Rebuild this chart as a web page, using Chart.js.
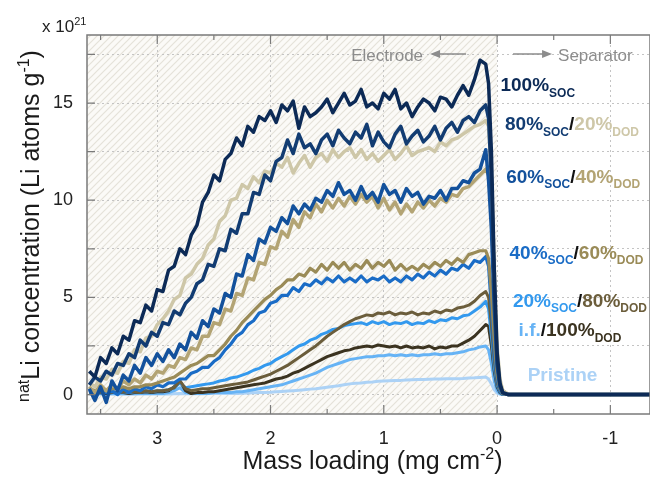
<!DOCTYPE html>
<html>
<head>
<meta charset="utf-8">
<script src="https://cdn.jsdelivr.net/npm/chart.js@4.4.1/dist/chart.umd.min.js"></script>
<style>
  html, body { margin: 0; padding: 0; background: #fff; }
  #wrap { width: 650px; height: 478px; position: relative; }
</style>
</head>
<body>
<div id="wrap"><canvas id="liChart"></canvas></div>
<script>
// mass loading (mg cm-2), electrode side > 0, separator side < 0
const massLoading = [
  3.60,3.55,3.50,3.45,3.40,3.35,3.30,3.25,3.20,3.15,
  3.10,3.05,3.00,2.95,2.90,2.85,2.80,2.75,2.70,2.65,
  2.60,2.55,2.50,2.45,2.40,2.35,2.30,2.25,2.20,2.15,
  2.10,2.05,2.00,1.95,1.90,1.85,1.80,1.75,1.70,1.65,
  1.60,1.55,1.50,1.45,1.40,1.35,1.30,1.25,1.20,1.15,
  1.10,1.05,1.00,0.95,0.90,0.85,0.80,0.75,0.70,0.65,
  0.60,0.55,0.50,0.45,0.40,0.35,0.30,0.25,0.20,0.15,
  0.10,0.075,0.05,0.025,0,-0.025,-0.05,-0.1,-1.35
];

// natLi concentration, x 10^21 Li atoms g-1
const soc100 = [
  1.2,0.9,1.9,1.6,2.4,2.1,3.0,2.8,3.8,3.7,
  4.6,4.3,5.4,5.3,6.4,6.6,7.5,7.2,8.2,8.7,
  9.9,10.4,11.3,11.0,12.1,12.4,13.2,12.8,13.8,13.5,
  14.3,14.1,14.6,14.0,14.9,14.6,15.1,13.7,14.8,14.3,
  14.5,14.8,15.2,14.5,15.0,15.5,14.9,15.1,15.7,14.8,
  15.0,14.7,15.5,15.2,15.7,14.7,15.0,14.3,14.8,15.2,
  15.0,14.6,15.3,15.2,14.8,15.4,15.9,15.4,16.2,17.2,
  17.0,16.0,12.5,6.5,2.2,0.6,0.1,0,0
];
const soc80 = [
  0.5,0.9,0.7,1.2,1.0,1.6,1.5,2.1,1.9,2.8,
  2.5,3.2,3.0,3.7,3.6,4.3,4.1,4.7,5.0,5.7,
  5.9,6.7,6.6,7.5,7.4,8.5,8.3,9.3,9.3,10.4,
  10.3,11.3,11.0,12.0,12.2,13.1,12.4,13.4,12.7,12.9,
  12.4,13.1,13.4,12.8,13.6,13.2,12.9,13.5,13.2,13.9,
  12.8,13.5,13.0,12.7,13.4,13.8,12.9,13.3,13.6,13.0,
  13.3,13.8,13.1,13.7,14.0,13.5,14.1,14.3,14.0,14.6,
  14.9,14.2,11.0,5.5,1.8,0.5,0.1,0,0
];
const dod20 = [
  0.6,0.4,0.9,0.8,1.3,1.1,1.7,1.6,2.3,2.2,
  2.9,3.0,3.6,3.9,4.3,4.9,5.1,6.0,6.2,6.7,
  7.0,7.7,8.0,8.9,9.2,10.0,10.1,10.8,10.6,11.2,
  10.9,11.5,11.4,11.9,11.7,12.2,11.4,11.9,12.3,11.7,
  12.2,12.4,12.0,12.6,12.2,12.5,12.7,12.2,12.6,12.1,
  12.4,12.0,12.3,12.6,12.1,12.4,12.8,12.3,12.5,12.6,
  12.7,12.5,13.0,12.8,13.1,13.2,13.4,13.6,13.8,13.9,
  14.1,13.8,11.5,6.5,2.5,0.8,0.2,0,0
];
const soc60 = [
  0.3,-0.3,0.4,-0.4,0.7,0.2,1.0,0.7,1.5,1.1,
  1.9,1.5,2.1,1.7,2.3,1.9,2.6,2.3,3.2,2.9,
  3.8,3.5,4.4,4.2,5.2,5.0,6.2,6.1,7.2,6.9,
  8.0,7.8,8.6,8.4,9.1,8.8,9.7,9.3,9.8,9.5,
  10.1,9.9,10.5,10.2,10.9,10.3,10.5,10.0,10.7,10.1,
  10.4,9.9,10.8,10.3,10.5,9.9,10.6,10.2,10.4,9.8,
  10.2,10.1,10.5,10.0,10.6,10.6,11.0,10.9,11.4,11.6,
  12.6,11.0,8.5,4.5,1.5,0.4,0.1,0,0
];
const dod40 = [
  0.4,0.1,0.5,0.2,0.5,0.3,0.7,0.5,0.8,0.6,
  1.0,0.8,1.2,1.1,1.5,1.4,1.9,1.8,2.4,2.3,
  3.0,3.0,3.7,3.6,4.4,4.3,5.2,5.1,6.0,5.9,
  6.8,6.7,7.6,7.5,8.4,8.1,9.0,8.6,9.4,9.1,
  9.8,9.4,10.0,9.6,10.1,9.7,10.2,9.8,10.3,9.9,
  10.2,9.6,10.1,9.5,9.9,9.3,9.8,9.4,9.9,9.6,
  10.0,9.7,10.1,9.9,10.3,10.2,10.6,10.7,11.0,11.3,
  11.6,11.3,9.5,5.5,2.0,0.6,0.2,0,0
];
const soc40 = [
  0.2,0.0,0.3,0.1,0.2,0.0,0.3,0.1,0.3,0.2,
  0.4,0.3,0.5,0.4,0.6,0.6,0.8,0.8,1.1,1.2,
  1.4,1.4,1.7,1.9,2.3,2.6,3.0,3.2,3.6,3.8,
  4.2,4.3,4.7,4.8,5.1,5.1,5.5,5.3,5.7,5.6,
  5.9,5.7,6.0,5.8,6.1,5.8,6.0,5.8,6.1,5.8,
  6.0,5.9,6.1,5.8,6.0,5.8,6.1,5.9,6.2,6.0,
  6.3,6.1,6.4,6.2,6.5,6.4,6.7,6.5,6.9,6.8,
  7.1,6.6,4.5,2.2,0.8,0.2,0.05,0,0
];
const dod60 = [
  0.3,0.2,0.3,0.2,0.3,0.3,0.4,0.3,0.4,0.4,
  0.5,0.5,0.6,0.7,0.8,0.9,1.1,1.3,1.5,1.6,
  1.8,2.0,2.0,2.3,2.6,3.0,3.3,3.7,4.0,4.3,
  4.6,4.9,5.1,5.4,5.6,5.9,5.9,6.2,6.1,6.5,
  6.3,6.7,6.4,6.8,6.5,6.8,6.4,6.7,6.5,6.9,
  6.5,6.8,6.6,6.9,6.4,6.7,6.4,6.6,6.4,6.7,
  6.5,6.8,6.6,6.9,6.7,7.0,6.8,7.2,7.3,7.4,
  7.4,7.0,5.2,2.8,1.0,0.3,0.05,0,0
];
const soc20 = [
  0.1,0.1,0.15,0.1,0.15,0.1,0.15,0.1,0.15,0.15,
  0.2,0.15,0.2,0.2,0.25,0.35,0.6,0.35,0.4,0.45,
  0.5,0.55,0.6,0.7,0.75,0.85,0.9,1.0,1.1,1.25,
  1.35,1.5,1.6,1.8,1.95,2.1,2.3,2.5,2.6,2.8,
  2.9,3.1,3.2,3.35,3.4,3.55,3.6,3.65,3.7,3.6,
  3.75,3.65,3.75,3.6,3.7,3.65,3.75,3.6,3.7,3.65,
  3.8,3.7,3.85,3.8,3.95,3.9,4.05,4.1,4.3,4.5,
  4.8,4.4,3.0,1.4,0.5,0.15,0,0,0
];
const dod80 = [
  0.15,0.1,0.15,0.1,0.15,0.1,0.15,0.15,0.15,0.1,
  0.2,0.15,0.2,0.2,0.25,0.35,0.7,0.3,0.2,0.25,
  0.3,0.3,0.35,0.4,0.45,0.5,0.55,0.6,0.65,0.75,
  0.85,0.95,1.05,1.2,1.35,1.5,1.7,1.9,2.1,2.3,
  2.5,2.75,3.0,3.2,3.4,3.6,3.75,3.9,4.0,4.1,
  4.05,4.2,4.15,4.25,4.1,4.2,4.15,4.25,4.1,4.2,
  4.15,4.3,4.2,4.35,4.3,4.45,4.5,4.6,4.8,5.1,
  5.3,5.0,3.6,1.8,0.6,0.2,0.05,0,0
];
const interFace = [
  0.05,0.05,0.05,0.05,0.05,0.05,0.05,0.05,0.05,0.05,
  0.05,0.05,0.05,0.05,0.1,0.2,0.35,0.1,0.05,0.05,
  0.05,0.05,0.1,0.1,0.1,0.1,0.15,0.15,0.2,0.25,
  0.3,0.35,0.4,0.45,0.5,0.6,0.7,0.8,0.9,1.0,
  1.1,1.25,1.4,1.5,1.6,1.7,1.8,1.85,1.9,1.95,
  1.95,2.0,2.0,2.05,2.0,2.05,2.0,2.05,2.0,2.05,
  2.05,2.1,2.05,2.1,2.1,2.15,2.2,2.3,2.35,2.45,
  2.5,2.3,1.6,0.7,0.2,0.05,0,0,0
];
const dod100 = [
  0.1,0.05,0.1,0.05,0.1,0.1,0.1,0.05,0.1,0.1,
  0.15,0.1,0.15,0.15,0.2,0.4,0.7,0.2,0.05,0.1,
  0.1,0.15,0.15,0.2,0.25,0.3,0.35,0.4,0.45,0.5,
  0.55,0.6,0.7,0.8,0.85,0.95,1.1,1.2,1.35,1.5,
  1.65,1.8,1.95,2.05,2.15,2.25,2.3,2.4,2.45,2.5,
  2.45,2.55,2.5,2.45,2.5,2.4,2.5,2.4,2.45,2.4,
  2.5,2.35,2.45,2.4,2.5,2.5,2.65,2.8,3.0,3.3,
  3.6,3.5,2.5,1.2,0.4,0.1,0,0,0
];
const pristine = [
  0.02,0.03,0.02,0.03,0.02,0.03,0.02,0.03,0.02,0.03,
  0.03,0.03,0.03,0.03,0.03,0.04,0.05,0.04,0.04,0.04,
  0.04,0.05,0.05,0.05,0.05,0.06,0.06,0.07,0.08,0.09,
  0.1,0.11,0.12,0.14,0.16,0.18,0.2,0.22,0.25,0.28,
  0.3,0.34,0.38,0.42,0.45,0.5,0.55,0.58,0.6,0.63,
  0.65,0.68,0.7,0.71,0.72,0.73,0.75,0.76,0.77,0.78,
  0.79,0.8,0.8,0.81,0.81,0.82,0.83,0.85,0.86,0.88,
  0.9,0.8,0.55,0.25,0.08,0.02,0,0,0
];

const xTickLabels = [3, 2, 1, 0, -1];
const yTickLabels = [0, 5, 10, 15];

const C = {
  navy: '#0c2a56', navy2: '#123c72', beige: '#cec7a8', blue60: '#13519c', tan: '#b3a474',
  blue40: '#1a6cc6', olive: '#9a8b57', lblue: '#3399ee', brown: '#6b5d3b',
  ifBlue: '#66b3f5', dark: '#3b3320', pale: '#acd2f6', black: '#111'
};

const series = [
  { name: '100% SOC', data: soc100, color: C.navy, w: 3.5 },
  { name: '80% SOC', data: soc80, color: C.navy2, w: 3.5 },
  { name: '20% DOD', data: dod20, color: C.beige, w: 3.5 },
  { name: '60% SOC', data: soc60, color: C.blue60, w: 3.5 },
  { name: '40% DOD', data: dod40, color: C.tan, w: 3.5 },
  { name: '60% DOD', data: dod60, color: C.olive, w: 3.2 },
  { name: '40% SOC', data: soc40, color: C.blue40, w: 3.2 },
  { name: '80% DOD', data: dod80, color: C.brown, w: 3 },
  { name: '20% SOC', data: soc20, color: C.lblue, w: 3 },
  { name: '100% DOD', data: dod100, color: C.dark, w: 3 },
  { name: 'i.f.', data: interFace, color: C.ifBlue, w: 3 },
  { name: 'Pristine', data: pristine, color: C.pale, w: 3 }
];

// in-plot labels: anchor in data units, then text pieces
const labelRows = [
  { x: -0.03, y: 15.6, parts: [['100%', C.navy], ['SOC', C.navy, 'sub']] },
  { x: -0.07, y: 13.6, parts: [['80%', C.navy2], ['SOC', C.navy2, 'sub'], ['/', C.black], ['20%', C.beige], ['DOD', C.beige, 'sub']] },
  { x: -0.08, y: 10.9, parts: [['60%', C.blue60], ['SOC', C.blue60, 'sub'], ['/', C.black], ['40%', C.tan], ['DOD', C.tan, 'sub']] },
  { x: -0.11, y: 7.0, parts: [['40%', C.blue40], ['SOC', C.blue40, 'sub'], ['/', C.black], ['60%', C.olive], ['DOD', C.olive, 'sub']] },
  { x: -0.14, y: 4.5, parts: [['20%', C.lblue], ['SOC', C.lblue, 'sub'], ['/', C.black], ['80%', C.brown], ['DOD', C.brown, 'sub']] },
  { x: -0.19, y: 3.0, parts: [['i.f.', C.ifBlue], ['/', C.black], ['100%', C.dark], ['DOD', C.dark, 'sub']] },
  { x: -0.27, y: 0.7, parts: [['Pristine', C.pale]] }
];

const FONT = '"Liberation Sans", Arial, sans-serif';

function richText(ctx, x, y, parts, size, weight, measureOnly) {
  let cx = x;
  parts.forEach(p => {
    const small = p[2] === 'sub' || p[2] === 'sup';
    const s = small ? Math.round(size * 0.63) : size;
    ctx.font = weight + ' ' + s + 'px ' + FONT;
    const dy = p[2] === 'sub' ? size * 0.28 : (p[2] === 'sup' ? -size * 0.42 : 0);
    if (!measureOnly) {
      ctx.fillStyle = p[1];
      ctx.fillText(p[0], cx, y + dy);
    }
    cx += ctx.measureText(p[0]).width;
  });
  return cx - x;
}

function hatchPattern(ctx) {
  const n = 7;
  const c = document.createElement('canvas');
  c.width = n; c.height = n;
  const g = c.getContext('2d');
  g.fillStyle = '#fbfaf7';
  g.fillRect(0, 0, n, n);
  g.strokeStyle = '#e5e2d9';
  g.lineWidth = 1.2;
  g.beginPath();
  g.moveTo(-1, n + 1); g.lineTo(n + 1, -1);
  g.moveTo(-1, 1); g.lineTo(1, -1);
  g.moveTo(n - 1, n + 1); g.lineTo(n + 1, n - 1);
  g.stroke();
  return ctx.createPattern(c, 'repeat');
}

const isWhole = v => Math.abs(v - Math.round(v)) < 1e-6;

const decor = {
  id: 'decor',
  beforeDraw(chart) {
    const { ctx, chartArea: a, scales: { x } } = chart;
    const x0 = x.getPixelForValue(0);
    ctx.save();
    ctx.fillStyle = hatchPattern(ctx);
    ctx.fillRect(a.left, a.top, x0 - a.left, a.bottom - a.top);
    ctx.restore();
  },
  afterDraw(chart) {
    const { ctx, chartArea: a, scales: { x, y } } = chart;
    ctx.save();
    // frame
    ctx.strokeStyle = '#7a7a7a';
    ctx.lineWidth = 1.5;
    ctx.strokeRect(a.left, a.top, a.right - a.left, a.bottom - a.top);
    // inward ticks
    ctx.lineWidth = 1.2;
    ctx.beginPath();
    x.ticks.forEach(t => {
      const px = x.getPixelForValue(t.value);
      const len = isWhole(t.value) ? 9 : 5;
      ctx.moveTo(px, a.bottom); ctx.lineTo(px, a.bottom - len);
      ctx.moveTo(px, a.top); ctx.lineTo(px, a.top + len);
    });
    y.ticks.forEach(t => {
      const py = y.getPixelForValue(t.value);
      ctx.moveTo(a.left, py); ctx.lineTo(a.left + 8, py);
    });
    ctx.stroke();

    // electrode / separator annotation
    const x0 = x.getPixelForValue(0);
    const ty = a.top + 26, ay = a.top + 19;
    ctx.fillStyle = '#8c8c8c';
    ctx.strokeStyle = '#8c8c8c';
    ctx.font = '17px ' + FONT;
    ctx.textAlign = 'right';
    ctx.fillText('Electrode', x0 - 74, ty);
    ctx.textAlign = 'left';
    ctx.fillText('Separator', x0 + 61, ty);
    ctx.lineWidth = 1.3;
    ctx.beginPath();
    ctx.moveTo(x0 - 60, ay); ctx.lineTo(x0 - 31, ay);
    ctx.moveTo(x0 + 16, ay); ctx.lineTo(x0 + 48, ay);
    ctx.stroke();
    ctx.beginPath();
    ctx.moveTo(x0 - 67, ay); ctx.lineTo(x0 - 57, ay - 4); ctx.lineTo(x0 - 57, ay + 4); ctx.closePath();
    ctx.moveTo(x0 + 55, ay); ctx.lineTo(x0 + 45, ay - 4); ctx.lineTo(x0 + 45, ay + 4); ctx.closePath();
    ctx.fill();

    // series labels
    ctx.textAlign = 'left';
    ctx.textBaseline = 'alphabetic';
    labelRows.forEach(r => {
      richText(ctx, x.getPixelForValue(r.x), y.getPixelForValue(r.y), r.parts, 19, 'bold');
    });

    // exponent
    richText(ctx, a.left - 45, a.top - 3, [['x 10', '#222'], ['21', '#222', 'sup']], 17, 'normal');

    // x title
    const xParts = [['Mass loading (mg cm', '#1a1a1a'], ['-2', '#1a1a1a', 'sup'], [')', '#1a1a1a']];
    const xw = richText(ctx, 0, 0, xParts, 25, 'normal', true);
    richText(ctx, (a.left + a.right) / 2 + 4 - xw / 2, 469, xParts, 25, 'normal');

    // y title
    const yParts = [['nat', '#1a1a1a', 'sup'], ['Li concentration (Li atoms g', '#1a1a1a'], ['-1', '#1a1a1a', 'sup'], [')', '#1a1a1a']];
    const yw = richText(ctx, 0, 0, yParts, 25, 'normal', true);
    ctx.translate(39, 226);
    ctx.rotate(-Math.PI / 2);
    richText(ctx, -yw / 2, 0, yParts, 25, 'normal');
    ctx.restore();
  }
};

new Chart(document.getElementById('liChart'), {
  type: 'line',
  data: {
    datasets: series.map(s => ({
      label: s.name,
      data: s.data.map((v, i) => ({ x: massLoading[i], y: v })),
      borderColor: s.color,
      backgroundColor: s.color,
      borderWidth: s.w,
      borderJoinStyle: 'round',
      pointRadius: 0,
      tension: 0,
      fill: false
    }))
  },
  options: {
    responsive: true, maintainAspectRatio: false,
    animation: false,
    layout: { padding: { top: 35, right: 0, left: 0, bottom: 0 } },
    plugins: { legend: { display: false }, tooltip: { enabled: false } },
    scales: {
      x: {
        type: 'linear', reverse: true, min: -1.35, max: 3.62,
        afterFit: s => { s.height = 64; },
        border: { display: false, dash: [2, 3] },
        grid: {
          drawTicks: false,
          color: c => isWhole(c.tick.value) ? '#c4c4c4' : 'rgba(0,0,0,0)',
          lineWidth: 1
        },
        ticks: {
          stepSize: 0.5, includeBounds: false, maxTicksLimit: 50, maxRotation: 0, autoSkip: false,
          padding: 14, color: '#222', font: { family: FONT, size: 18 },
          callback: v => xTickLabels.includes(v) ? String(v) : ''
        }
      },
      y: {
        min: -1, max: 18.5,
        afterFit: s => { s.width = 87; },
        border: { display: false, dash: [2, 3] },
        grid: { drawTicks: false, color: '#c4c4c4', lineWidth: 1 },
        ticks: {
          stepSize: 2.5, includeBounds: false, autoSkip: false,
          padding: 14, color: '#222', font: { family: FONT, size: 18 },
          callback: v => yTickLabels.includes(v) ? String(v) : ''
        }
      }
    }
  },
  plugins: [decor]
});
</script>
</body>
</html>
